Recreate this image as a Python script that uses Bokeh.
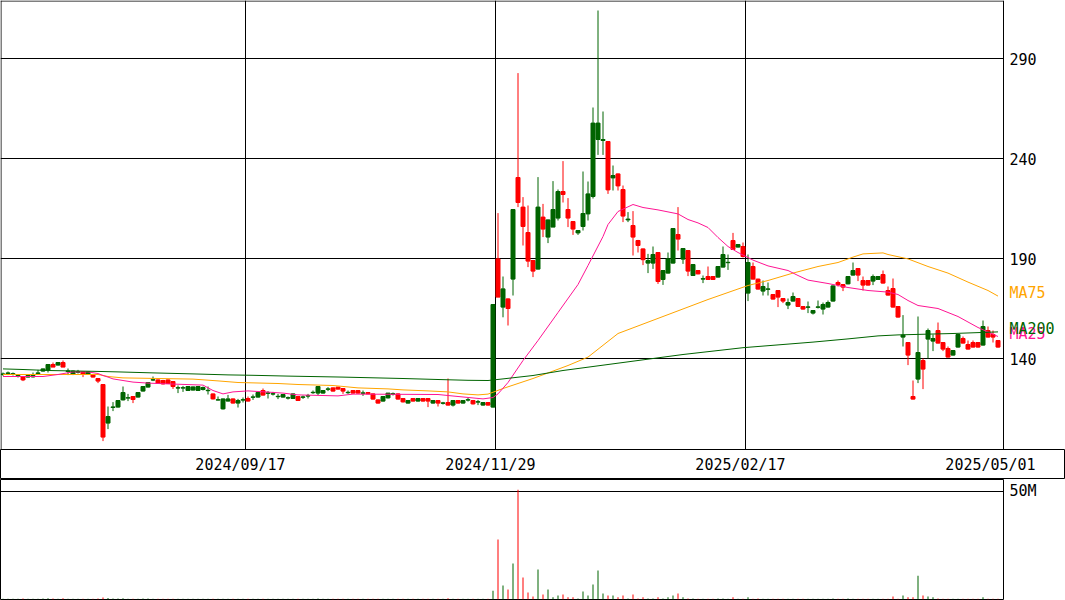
from bokeh.plotting import figure
from bokeh.layouts import column
from bokeh.models import Range1d, FixedTicker, ColumnDataSource
from bokeh.embed import file_html
from bokeh.resources import INLINE
from bokeh.core.properties import value

# ---- daily prices (yen), oldest first ----
opens = [
    132.0, 132.5, 132.1, 131.0, 130.7, 130.7, 130.8, 132.5, 133.7, 134.3,
    137.0, 136.7, 138.0, 133.5, 132.0, 133.1, 133.3, 132.0, 132.0, 130.0,
    127.0, 107.7, 115.5, 115.7, 119.3, 120.2, 121.0, 120.7, 123.7, 125.7,
    129.2, 129.3, 129.0, 129.3, 128.5, 125.2, 125.2, 124.0, 124.2, 124.0,
    124.5, 123.9, 122.3, 119.2, 114.8, 118.7, 119.8, 117.7, 119.2, 120.0,
    120.6, 120.7, 124.0, 122.6, 122.2, 120.9, 120.7, 120.2, 120.0, 121.0,
    120.6, 121.2, 122.9, 122.7, 122.7, 124.6, 125.3, 125.7, 125.0, 122.9,
    124.0, 124.0, 122.6, 123.0, 122.3, 119.3, 118.7, 120.3, 122.2, 122.3,
    120.0, 117.7, 120.0, 118.7, 120.0, 120.0, 117.7, 119.0, 117.6, 118.0,
    116.7, 119.0, 117.7, 119.2, 119.0, 118.2, 116.7, 118.0, 115.7, 189.8,
    165.7, 169.8, 179.7, 230.5, 215.7, 203.0, 189.0, 184.7, 210.7, 200.7,
    205.7, 210.2, 223.5, 214.5, 208.5, 202.8, 206.0, 212.3, 221.0, 249.5,
    249.0, 248.5, 230.3, 232.3, 224.5, 209.3, 206.5, 199.0, 194.8, 187.7,
    187.7, 193.0, 179.5, 182.7, 187.7, 202.0, 189.7, 194.0, 181.5, 184.0,
    179.7, 181.0, 181.0, 180.7, 185.7, 187.9, 199.0, 195.7, 196.0, 172.7,
    186.0, 179.7, 173.7, 174.6, 172.0, 174.0, 170.0, 166.7, 168.7, 170.0,
    166.0, 165.6, 162.7, 165.6, 164.7, 165.7, 168.7, 178.0, 177.0, 177.3,
    181.7, 185.0, 179.0, 179.0, 178.7, 179.5, 182.0, 174.0, 175.0, 166.0,
    150.7, 148.0, 121.0, 129.7, 139.0, 149.7, 148.7, 154.0, 148.0, 145.0,
    141.7, 145.7, 150.0, 147.0, 148.0, 148.0, 146.7, 154.0, 152.0, 149.0,
]
highs = [
    133.0, 133.5, 133.0, 131.8, 131.2, 131.5, 133.0, 134.3, 135.0, 137.0,
    138.0, 138.0, 139.0, 135.0, 134.0, 134.3, 133.5, 133.5, 132.2, 130.2,
    127.0, 116.0, 118.2, 119.0, 126.0, 122.3, 121.0, 123.0, 126.0, 128.0,
    131.0, 129.5, 129.3, 129.5, 128.5, 126.5, 126.3, 126.2, 126.0, 126.0,
    126.0, 126.0, 122.5, 121.0, 120.0, 121.8, 120.0, 119.8, 120.5, 121.0,
    122.0, 123.0, 125.0, 123.7, 123.3, 122.3, 122.2, 121.0, 122.5, 121.2,
    121.5, 122.3, 124.0, 126.0, 124.0, 125.7, 125.5, 125.8, 125.2, 124.0,
    124.2, 124.2, 124.0, 123.2, 122.5, 119.5, 121.0, 122.7, 123.0, 122.5,
    120.2, 119.2, 120.2, 120.2, 120.2, 120.2, 119.2, 119.2, 118.3, 130.0,
    119.2, 119.2, 119.2, 120.3, 119.2, 119.3, 118.2, 118.2, 167.0, 212.7,
    181.0, 170.0, 214.5, 282.7, 220.7, 216.5, 189.2, 230.7, 217.3, 209.5,
    228.7, 224.5, 238.7, 220.2, 208.7, 204.2, 233.5, 228.5, 265.5, 314.0,
    263.5, 248.7, 236.5, 232.5, 226.5, 213.2, 213.7, 199.3, 195.0, 192.3,
    196.0, 193.2, 184.2, 193.0, 205.0, 215.7, 195.2, 194.2, 187.2, 184.2,
    181.5, 186.0, 181.2, 186.2, 196.0, 192.0, 202.8, 197.2, 198.0, 192.0,
    188.0, 179.9, 179.0, 178.0, 172.2, 174.2, 170.2, 170.0, 173.0, 170.2,
    166.2, 168.5, 164.2, 169.0, 168.0, 169.0, 176.5, 179.0, 177.2, 181.2,
    188.0, 185.2, 181.0, 179.2, 182.0, 181.2, 184.0, 176.0, 180.0, 166.2,
    161.7, 148.2, 129.0, 161.0, 140.0, 155.0, 152.0, 158.0, 148.2, 146.0,
    144.2, 152.2, 151.0, 149.0, 149.0, 148.2, 159.0, 156.0, 154.0, 149.2,
]
lows = [
    131.3, 131.7, 131.5, 130.5, 128.7, 130.5, 130.5, 132.0, 133.5, 133.0,
    135.7, 136.5, 135.7, 131.7, 131.7, 132.5, 130.7, 131.8, 130.5, 127.7,
    98.7, 104.7, 113.7, 115.5, 119.0, 118.7, 117.7, 120.5, 123.5, 125.5,
    128.7, 127.3, 127.0, 127.3, 124.8, 122.7, 123.3, 123.8, 124.0, 123.8,
    124.0, 122.0, 119.5, 119.0, 114.5, 118.5, 117.5, 115.5, 118.0, 118.5,
    119.3, 120.5, 121.5, 120.0, 121.5, 119.7, 120.5, 119.5, 119.8, 118.8,
    119.8, 120.0, 122.3, 121.7, 122.5, 123.7, 123.5, 124.5, 122.3, 122.3,
    122.5, 122.5, 121.3, 122.2, 119.5, 117.5, 118.5, 120.0, 121.5, 119.5,
    118.0, 117.5, 118.5, 118.5, 118.5, 115.7, 117.5, 116.0, 117.0, 116.5,
    116.0, 117.5, 117.5, 118.5, 117.0, 116.7, 116.5, 116.5, 115.5, 170.7,
    160.6, 156.5, 171.5, 215.7, 196.5, 185.7, 180.7, 184.5, 200.7, 197.7,
    205.7, 209.0, 218.0, 205.7, 201.8, 201.8, 204.0, 209.0, 220.0, 241.8,
    241.8, 222.3, 224.0, 224.0, 208.2, 208.2, 191.5, 193.0, 186.7, 182.7,
    184.8, 177.3, 176.8, 182.5, 187.5, 194.0, 187.3, 181.2, 181.3, 182.1,
    177.7, 179.3, 179.3, 180.5, 185.5, 184.3, 194.3, 195.5, 190.5, 168.7,
    179.5, 174.5, 171.5, 171.5, 169.5, 165.7, 167.7, 164.7, 168.5, 165.8,
    164.5, 162.7, 162.0, 165.0, 162.0, 165.5, 168.5, 176.0, 173.7, 177.1,
    181.5, 178.7, 174.0, 176.5, 176.7, 179.3, 177.5, 171.5, 165.5, 160.5,
    146.0, 136.7, 119.5, 127.7, 124.7, 140.0, 143.7, 147.5, 143.7, 140.5,
    141.5, 145.5, 147.5, 144.5, 145.5, 145.5, 146.5, 150.5, 148.0, 145.5,
]
closes = [
    132.3, 132.8, 132.4, 131.5, 129.3, 131.5, 131.5, 132.8, 134.8, 137.0,
    135.7, 138.0, 135.7, 133.8, 133.7, 133.4, 132.0, 133.3, 130.7, 128.7,
    100.7, 111.0, 115.8, 119.0, 123.0, 120.4, 119.5, 123.0, 126.0, 128.0,
    129.4, 127.5, 127.3, 127.5, 126.0, 125.4, 125.4, 126.0, 125.8, 126.0,
    125.5, 124.1, 119.8, 119.4, 119.8, 119.8, 117.7, 119.0, 119.4, 118.7,
    120.8, 123.0, 121.7, 122.8, 122.4, 121.1, 122.0, 120.4, 122.3, 119.0,
    120.8, 121.4, 123.1, 126.0, 124.0, 124.8, 123.7, 124.7, 123.7, 123.1,
    122.7, 122.7, 122.8, 122.3, 119.7, 117.7, 121.0, 122.7, 122.4, 119.7,
    118.3, 119.0, 118.7, 120.0, 118.7, 118.7, 119.0, 117.7, 117.8, 116.7,
    119.0, 117.7, 119.0, 119.4, 117.3, 118.4, 118.0, 116.7, 167.0, 170.7,
    174.8, 165.0, 214.5, 218.0, 206.0, 188.7, 183.7, 215.7, 204.7, 209.3,
    214.5, 223.5, 222.0, 210.2, 204.7, 204.0, 212.5, 222.3, 257.7, 257.7,
    249.5, 224.3, 231.5, 226.3, 211.2, 209.7, 200.7, 196.5, 189.4, 189.0,
    192.0, 178.5, 184.0, 189.8, 205.0, 199.7, 195.0, 183.7, 187.0, 182.3,
    179.9, 179.5, 179.5, 186.0, 192.0, 188.1, 194.5, 197.0, 191.0, 188.0,
    179.7, 174.7, 176.0, 174.8, 169.7, 170.7, 168.7, 168.0, 171.0, 166.0,
    164.7, 165.8, 164.0, 165.8, 167.0, 168.0, 176.3, 177.0, 175.7, 181.0,
    184.0, 181.7, 176.7, 176.7, 181.0, 181.0, 177.7, 171.7, 165.7, 160.7,
    151.7, 141.7, 119.7, 143.0, 134.7, 154.0, 150.0, 147.7, 144.7, 140.7,
    144.0, 152.0, 147.7, 144.7, 145.7, 145.7, 156.0, 150.7, 150.7, 145.7,
]
# traded volume, millions of shares
volumes = [
    0.4, 0.3, 0.3, 0.4, 0.5, 0.3, 0.4, 0.4, 0.5, 0.6,
    0.5, 0.4, 0.6, 0.4, 0.3, 0.3, 0.4, 0.3, 0.4, 0.5,
    0.9, 0.7, 0.5, 0.5, 0.6, 0.4, 0.4, 0.4, 0.5, 0.5,
    0.4, 0.4, 0.3, 0.3, 0.4, 0.3, 0.3, 0.4, 0.3, 0.3,
    0.3, 0.3, 0.4, 0.3, 0.4, 0.3, 0.3, 0.3, 0.3, 0.3,
    0.3, 0.4, 0.4, 0.3, 0.3, 0.3, 0.3, 0.3, 0.4, 0.3,
    0.3, 0.3, 0.3, 0.5, 0.4, 0.3, 0.3, 0.3, 0.3, 0.3,
    0.3, 0.3, 0.3, 0.3, 0.4, 0.4, 0.4, 0.4, 0.3, 0.4,
    0.3, 0.3, 0.3, 0.3, 0.3, 0.4, 0.3, 0.3, 0.3, 0.6,
    0.4, 0.3, 0.3, 0.3, 0.3, 0.3, 0.3, 0.3, 4.0, 27.8,
    6.5, 4.6, 16.7, 50.8, 10.2, 3.2, 1.4, 13.9, 2.3, 4.6,
    1.0, 1.9, 2.3, 1.0, 1.0, 0.5, 3.7, 1.9, 6.9, 13.4,
    2.8, 1.9, 1.9, 1.0, 1.9, 0.5, 2.3, 0.5, 1.0, 0.5,
    0.5, 1.0, 0.5, 1.0, 1.9, 2.8, 1.0, 0.5, 0.5, 0.3,
    0.3, 0.3, 0.3, 0.5, 0.5, 0.3, 1.0, 0.3, 0.3, 1.0,
    0.3, 0.5, 0.3, 0.3, 0.3, 0.3, 0.3, 0.3, 0.3, 0.3,
    0.3, 0.3, 0.3, 0.3, 0.3, 0.3, 0.5, 0.3, 0.3, 0.5,
    0.3, 0.3, 0.3, 0.3, 0.3, 0.3, 0.3, 0.3, 1.4, 0.3,
    1.9, 1.0, 1.0, 11.0, 1.9, 1.4, 1.0, 0.5, 0.3, 0.3,
    0.3, 0.3, 0.3, 0.3, 0.3, 0.3, 1.0, 0.3, 0.3, 0.3,
]

# moving averages, sampled at bar index
ma25_bar = [0, 8, 11, 14, 17, 19, 20, 21, 22, 24, 26, 29, 33, 40, 42, 44, 46, 49, 53, 56,
            59, 67, 70, 87, 91, 96, 98, 99, 101, 104, 107, 111, 115, 117, 120, 121, 123, 126, 128, 131,
            135, 137, 139, 141, 143, 145, 147, 150, 153, 157, 159, 161, 165, 169, 173, 177, 179, 181, 183, 187,
            191, 195, 199]
ma25_val = [131.0, 131.0, 132.0, 133.3, 133.3, 132.5, 131.5, 130.7, 129.8, 129.0, 128.2, 127.7, 127.3, 126.7, 124.0, 122.3, 123.3, 123.8, 123.2, 122.7,
            121.8, 121.3, 122.2, 122.0, 121.0, 119.8, 120.5, 122.3, 128.0, 139.0, 149.0, 163.0, 177.0, 186.5, 201.0, 207.0, 213.5, 217.0, 215.5, 214.3,
            212.3, 209.5, 207.8, 205.5, 200.5, 196.0, 193.0, 189.2, 186.3, 184.0, 181.5, 179.2, 177.5, 175.5, 174.0, 173.2, 172.0, 169.0, 166.5, 165.0,
            161.0, 155.5, 151.0]
ma75_bar = [0, 19, 21, 24, 38, 43, 47, 55, 59, 66, 71, 77, 80, 85, 89, 92, 95, 97, 100, 106,
            113, 117, 123, 141, 149, 153, 158, 163, 167, 170, 172, 176, 177, 181, 185, 189, 193, 197, 199]
ma75_val = [132.0, 132.0, 131.0, 130.3, 129.7, 128.8, 128.0, 127.5, 127.0, 126.5, 125.3, 124.8, 124.3, 123.8, 123.3, 122.3, 121.8, 122.2, 125.0, 130.0,
            136.5, 140.7, 152.5, 169.5, 176.5, 179.0, 182.7, 186.0, 188.0, 190.7, 192.3, 192.8, 192.0, 189.8, 186.0, 182.7, 178.2, 174.0, 171.2]
ma200_bar = [0, 4, 9, 18, 23, 30, 38, 45, 50, 57, 68, 80, 87, 93, 97, 100, 106, 112, 124, 136,
             148, 156, 162, 169, 175, 179, 190, 199]
ma200_val = [134.8, 134.5, 134.0, 133.6, 133.3, 132.8, 132.3, 131.8, 131.6, 131.2, 130.7, 130.0, 129.5, 129.1, 129.0, 129.8, 131.5, 134.0, 138.0, 142.0,
             145.4, 147.0, 148.2, 149.8, 151.3, 151.8, 152.5, 153.3]

date_labels = ["2024/09/17", "2024/11/29", "2025/02/17", "2025/05/01"]
date_bars = [49, 99, 149, 199]
price_ticks = [140, 190, 240, 290]
volume_ticks = [50]

UP = "#006400"
DOWN = "#ff0000"
MA25_COLOR = "#ff1493"
MA75_COLOR = "#ffa500"
MA200_COLOR = "#006400"
FONT = "DejaVu Sans Mono"
FONT_SIZE = "15px"

# bar slots are 5px wide; the plotting panes end at slot 200.1, the margin
# to their right carries the scale and series names
PANE_LEFT = -0.5
PANE_RIGHT = 200.1
PAGE_RIGHT = 212.5
LABEL_X = 201.3
Y_LO, Y_HI = 94.5, 319.0

n = len(closes)
xs = list(range(n))
colors = [UP if c >= o else DOWN for o, c in zip(opens, closes)]
src = ColumnDataSource(dict(
    x=xs, high=highs, low=lows,
    top=[max(o, c) for o, c in zip(opens, closes)],
    bottom=[min(o, c) for o, c in zip(opens, closes)],
    color=colors, vol=volumes,
))

grid_x = [b - 0.5 for b in date_bars[:3]]

# ---- price pane (frame spans the full width, scale text drawn in the margin) ----
price = figure(width=1065, height=449, x_range=Range1d(PANE_LEFT, PAGE_RIGHT),
               y_range=Range1d(Y_LO, Y_HI),
               y_axis_location=None, x_axis_location=None,
               toolbar_location=None, output_backend="svg",
               min_border_left=0, min_border_top=0, min_border_bottom=0, min_border_right=0,
               background_fill_color="white", border_fill_color="white",
               outline_line_color=None)
price.frame_align = False
price.ygrid.grid_line_color = None
price.xgrid.ticker = FixedTicker(ticks=grid_x)
price.xgrid.grid_line_color = "black"

# horizontal price lines, stopping at the pane edge
price.segment(x0=PANE_LEFT, x1=PANE_RIGHT, y0=price_ticks, y1=price_ticks,
              line_color="black", line_width=1)
# pane border: left, top, right
price.segment(x0=[PANE_LEFT + 0.1, PANE_LEFT, PANE_RIGHT],
              y0=[Y_LO, Y_HI - 0.25, Y_LO],
              x1=[PANE_LEFT + 0.1, PANE_RIGHT, PANE_RIGHT],
              y1=[Y_HI, Y_HI - 0.25, Y_HI],
              line_color="black", line_width=1)

price.segment(x0="x", y0="high", x1="x", y1="low", color="color", line_width=1, source=src)
price.vbar(x="x", width=0.8, top="top", bottom="bottom", fill_color="color",
           line_color="color", line_width=1, source=src)

price.line(ma75_bar, ma75_val, line_color=MA75_COLOR, line_width=1)
price.line(ma25_bar, ma25_val, line_color=MA25_COLOR, line_width=1)
price.line(ma200_bar, ma200_val, line_color=MA200_COLOR, line_width=1)

# price scale
price.text(x=[LABEL_X] * len(price_ticks), y=price_ticks, text=[str(t) for t in price_ticks],
           text_font=value(FONT), text_font_size=FONT_SIZE, text_color="black",
           text_align="left", text_baseline="middle")

# series names, level with each average's last value
for name, vals, col in (("MA75", ma75_val, MA75_COLOR),
                        ("MA25", ma25_val, MA25_COLOR),
                        ("MA200", ma200_val, MA200_COLOR)):
    price.text(x=[LABEL_X], y=[vals[-1] + 1.4], text=[name],
               text_font=value(FONT), text_font_size=FONT_SIZE, text_color=col,
               text_align="left", text_baseline="middle")

# ---- date band ----
band = figure(width=1065, height=30, x_range=Range1d(PANE_LEFT, PAGE_RIGHT), y_range=Range1d(0, 1),
              x_axis_location=None, y_axis_location=None,
              toolbar_location=None, output_backend="svg",
              min_border_left=0, min_border_top=0, min_border_bottom=0, min_border_right=0,
              background_fill_color="white", border_fill_color="white",
              outline_line_color="black", outline_line_width=1)
band.frame_align = False
band.grid.grid_line_color = None
band.text(x=[b - 1.5 for b in date_bars], y=[0.5] * len(date_bars), text=date_labels,
          text_font=value(FONT), text_font_size=FONT_SIZE, text_color="black",
          text_align="center", text_baseline="middle")

# ---- volume pane ----
vol = figure(width=1065, height=121, x_range=Range1d(PANE_LEFT, PANE_RIGHT), y_range=Range1d(0, 55.5),
             y_axis_location="right", x_axis_location=None,
             toolbar_location=None, output_backend="svg",
             min_border_left=0, min_border_top=0, min_border_bottom=1, min_border_right=62,
             background_fill_color="white", border_fill_color="white",
             outline_line_color="black", outline_line_width=1)
vol.frame_align = False
ax = vol.yaxis[0]
ax.ticker = FixedTicker(ticks=volume_ticks)
ax.major_label_overrides = {50: "50M"}
ax.axis_line_color = None
ax.major_tick_line_color = None
ax.minor_tick_line_color = None
ax.major_tick_out = 0
ax.major_tick_in = 0
ax.major_label_standoff = 6
ax.major_label_text_font = FONT
ax.major_label_text_font_size = FONT_SIZE
ax.major_label_text_color = "black"
vol.ygrid.ticker = FixedTicker(ticks=volume_ticks)
vol.ygrid.grid_line_color = "black"
vol.xgrid.grid_line_color = None
vol.vbar(x="x", width=0.2, top="vol", bottom=0, fill_color="color", line_color=None, source=src)

layout = column(price, band, vol, spacing=0)
open("out.html", "w").write(file_html(layout, INLINE))
